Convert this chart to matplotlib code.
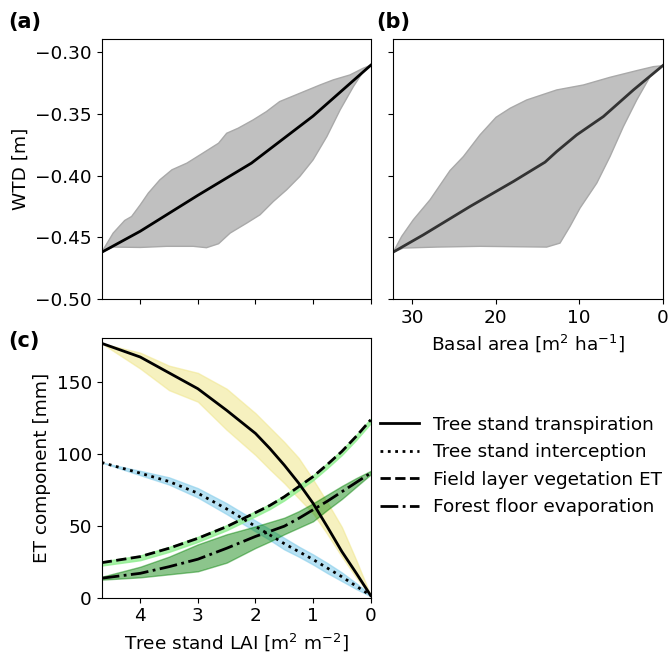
import matplotlib
matplotlib.use('Agg')
import matplotlib.pyplot as plt
import numpy as np

plt.rcParams['font.family'] = ['DejaVu Sans']
plt.rcParams['font.size'] = 13.3

# (a) water table depth vs tree stand LAI
lai_a_mean = [4.67, 4.0, 3.0, 2.07, 1.0, 0.0]
wtd_a_mean = [-0.462, -0.445, -0.416, -0.390, -0.352, -0.311]
lai_a_up = [4.67, 4.47, 4.27, 4.15, 4.00, 3.86, 3.66, 3.45, 3.19, 2.96, 2.64,
            2.50, 2.30, 2.04, 1.81, 1.58, 1.23, 0.88, 0.65, 0.36, 0.13, 0.0]
wtd_a_up = [-0.462, -0.4465, -0.4363, -0.4331, -0.4237, -0.4142, -0.4035,
            -0.3954, -0.3900, -0.3833, -0.3739, -0.3659, -0.3618, -0.3551,
            -0.3484, -0.3403, -0.3336, -0.3269, -0.3228, -0.3188, -0.3134, -0.311]
lai_a_lo = [4.67, 4.47, 4.00, 3.54, 3.08, 2.85, 2.64, 2.44, 2.15, 1.92, 1.69,
            1.46, 1.23, 1.00, 0.76, 0.53, 0.30, 0.13, 0.0]
wtd_a_lo = [-0.462, -0.4578, -0.4581, -0.4572, -0.4572, -0.4583, -0.4551,
            -0.4465, -0.4384, -0.4317, -0.4210, -0.4116, -0.4008, -0.3874,
            -0.3685, -0.3470, -0.3282, -0.3161, -0.311]

# (b) water table depth vs basal area
ba_mean = [32.26, 28.66, 23.07, 17.88, 14.09, 12.69, 10.30, 7.11, 3.51, 0.0]
wtd_b_mean = [-0.4618, -0.4479, -0.4250, -0.4048, -0.3892, -0.3806, -0.3672,
              -0.3524, -0.3309, -0.3113]
ba_up = [32.26, 31.26, 29.86, 27.86, 25.47, 23.87, 21.88, 19.96, 18.28, 16.29,
         12.69, 9.50, 6.31, 3.11, 1.12, 0.0]
wtd_b_up = [-0.4618, -0.4492, -0.4357, -0.4196, -0.3960, -0.3847, -0.3672,
            -0.3530, -0.3457, -0.3390, -0.3309, -0.3269, -0.3207, -0.3153,
            -0.3121, -0.3113]
ba_lo = [32.26, 31.06, 27.07, 21.88, 13.89, 12.30, 11.10, 9.90, 7.90, 6.31,
         4.71, 3.11, 1.52, 0.0]
wtd_b_lo = [-0.4618, -0.4586, -0.4578, -0.4572, -0.4578, -0.4546, -0.4411,
            -0.4263, -0.4062, -0.3847, -0.3605, -0.3390, -0.3202, -0.3113]

# (c) ET components vs tree stand LAI
lai_c = [4.67, 4.0, 3.5, 3.0, 2.5, 2.0, 1.75, 1.5, 1.25, 1.0, 0.75, 0.5, 0.25, 0.0]
transp = [176.5, 167, 156, 145, 130, 114, 103.5, 92, 79.5, 65.5, 49, 32, 17, 1.5]
transp_up = [176.5, 170, 161, 156, 145, 128, 118, 108, 97, 82, 66, 49, 26, 1.5]
transp_lo = [176.5, 159, 144, 136, 116.5, 99, 89, 79.5, 69, 58.5, 44, 28.5, 14, 1.5]
interc = [93.8, 86.4, 80.6, 72.5, 61.6, 49.5, 43.5, 37.5, 32, 26.5, 20.5, 14.5, 8, 1.5]
interc_up = [93.8, 88, 83.5, 76, 65.5, 53.5, 47.5, 41.5, 35.5, 30, 24, 17.5, 10, 2]
interc_lo = [93.8, 85, 78.5, 69.5, 58, 46, 40, 33.5, 28.5, 23, 17, 11.5, 6, 1]
field = [24.3, 28.5, 34.3, 41.2, 49.3, 59, 64, 70, 77, 84, 92.5, 101.5, 112, 123.4]
field_up = [25.0, 29.3, 35.2, 42.2, 50.3, 60, 65, 71, 78, 85, 93.5, 102.5, 113, 124.2]
field_lo = [22.3, 26.0, 31.8, 38.7, 46.8, 56.5, 61.5, 67.5, 74.5, 81.5, 90, 99, 109.5, 121]
floor = [13.5, 16.9, 21.5, 26.7, 34.3, 42.5, 46, 49.6, 55, 61, 67, 73.5, 80, 86.5]
floor_up = [14.5, 21.5, 28.5, 37, 44, 49.5, 52.5, 55.5, 60, 65.5, 71.5, 77.5, 83, 88]
floor_lo = [12.5, 14.1, 16.2, 18.3, 24.3, 34.5, 39, 44, 48.5, 53, 61, 68.5, 77, 85.5]

labels = ['Tree stand transpiration', 'Tree stand interception',
          'Field layer vegetation ET', 'Forest floor evaporation']

fig = plt.figure(figsize=(6.68, 6.57), dpi=100)
ax_a = fig.add_axes([0.1522, 0.5444, 0.4027, 0.3958])
ax_b = fig.add_axes([0.5888, 0.5444, 0.4033, 0.3958])
ax_c = fig.add_axes([0.1522, 0.0903, 0.4027, 0.3948])


def band(ax, x_up, y_up, x_lo, y_lo, **kw):
    xs = np.concatenate([x_up, x_lo[::-1]])
    ys = np.concatenate([y_up, y_lo[::-1]])
    ax.fill(xs, ys, **kw)


band(ax_a, lai_a_up, wtd_a_up, lai_a_lo, wtd_a_lo,
     facecolor='#c0c0c0', edgecolor='#a9a9a9', lw=1)
ax_a.plot(lai_a_mean, wtd_a_mean, color='black', lw=2)
ax_a.set_xlim(4.67, 0)
ax_a.set_ylim(-0.50, -0.29)
ax_a.set_xticks([4, 3, 2, 1, 0])
ax_a.set_xticklabels([])
ax_a.set_yticks([-0.50, -0.45, -0.40, -0.35, -0.30])
ax_a.set_ylabel('WTD [m]')

band(ax_b, ba_up, wtd_b_up, ba_lo, wtd_b_lo,
     facecolor='#c0c0c0', edgecolor='#a9a9a9', lw=1)
ax_b.plot(ba_mean, wtd_b_mean, color='#333333', lw=2)
ax_b.set_xlim(32.26, 0)
ax_b.set_ylim(-0.50, -0.29)
ax_b.set_xticks([30, 20, 10, 0])
ax_b.set_yticks([-0.50, -0.45, -0.40, -0.35, -0.30])
ax_b.set_yticklabels([])
ax_b.set_xlabel(r'Basal area [m$^2$ ha$^{-1}$]')

ax_c.fill_between(lai_c, transp_lo, transp_up, color='khaki', alpha=0.55, lw=1)
ax_c.fill_between(lai_c, interc_lo, interc_up, color='skyblue', alpha=0.6, lw=1)
ax_c.fill_between(lai_c, field_lo, field_up, color='lightgreen', alpha=0.8, lw=1)
ax_c.fill_between(lai_c, floor_lo, floor_up, color='green', alpha=0.45, lw=1)
ax_c.plot(lai_c, transp, color='black', lw=2, ls='-', label=labels[0])
ax_c.plot(lai_c, interc, color='black', lw=2, ls=':', label=labels[1])
ax_c.plot(lai_c, field, color='black', lw=2, ls='--', label=labels[2])
ax_c.plot(lai_c, floor, color='black', lw=2, ls='-.', label=labels[3])
ax_c.set_xlim(4.67, 0)
ax_c.set_ylim(0, 180)
ax_c.set_xticks([4, 3, 2, 1, 0])
ax_c.set_yticks([0, 50, 100, 150])
ax_c.set_xlabel(r'Tree stand LAI [m$^2$ m$^{-2}$]')
ax_c.set_ylabel('ET component [mm]')

ax_c.legend(loc='center left', bbox_to_anchor=(380 / 668, 1 - 466 / 657),
            bbox_transform=fig.transFigure, frameon=False, borderpad=0,
            borderaxespad=0, handlelength=2.1, handletextpad=0.75,
            labelspacing=0.52)

for lbl, x, y in [('(a)', 8, 12), ('(b)', 376, 12), ('(c)', 8, 331)]:
    fig.text(x / 668, 1 - y / 657, lbl, fontsize=15, fontweight='bold',
             va='top', ha='left')

fig.savefig('out.png', dpi=100)
